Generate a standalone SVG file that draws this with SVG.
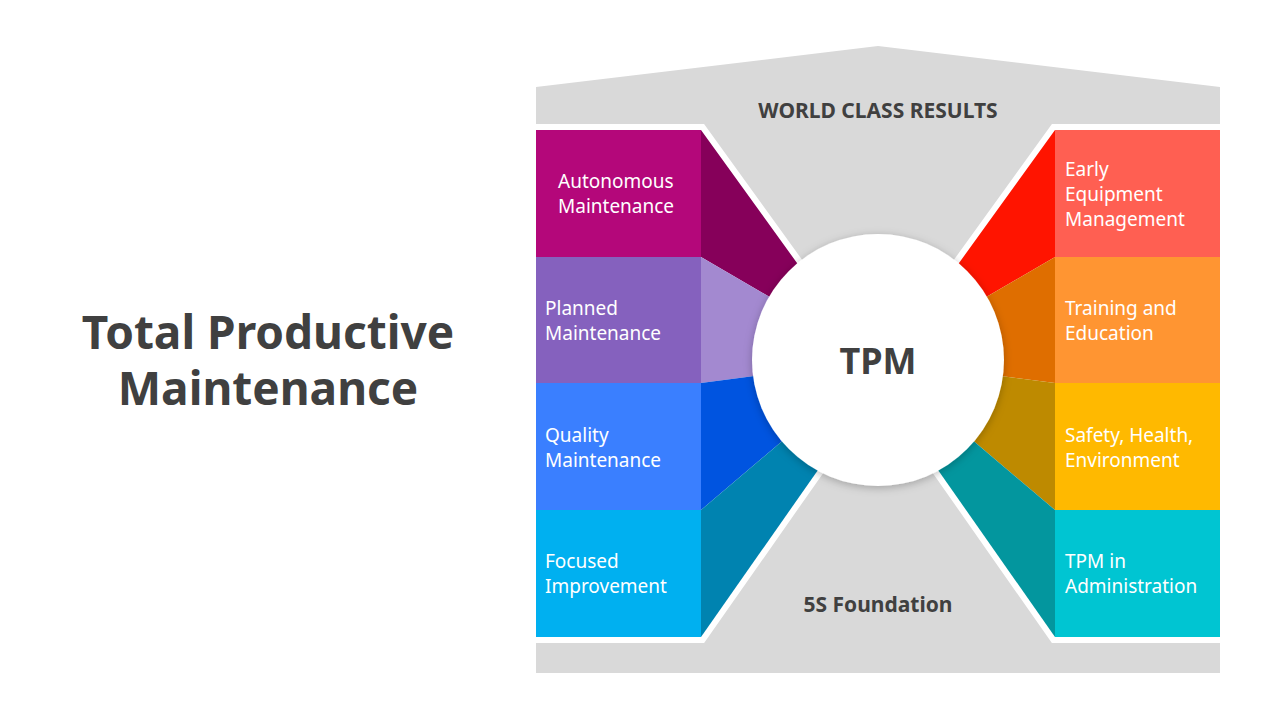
<svg xmlns="http://www.w3.org/2000/svg" width="1280" height="720" viewBox="0 0 1280 720">
<defs>
<style>
.lbl{font-family:"Noto Sans","Open Sans",sans-serif;font-size:19px;fill:#fff}
.hd{font-family:"Noto Sans","Open Sans",sans-serif;font-weight:bold;fill:#404040}
</style>
<filter id="sh" x="-20%" y="-20%" width="140%" height="140%"><feDropShadow dx="0" dy="2" stdDeviation="4" flood-color="#000" flood-opacity="0.25"/></filter>
</defs>
<rect width="1280" height="720" fill="#fff"/>
<text class="hd" font-size="46" text-anchor="middle"><tspan x="268" y="349">Total Productive</tspan><tspan x="268" y="405">Maintenance</tspan></text>
<g id="house">
<polygon points="536,87 878,46 1220,87 1220,673 536,673" fill="#d9d9d9"/>
<polygon points="536,130 701,130 797,263 878,360 818,470 701,637 536,637" fill="#fff" stroke="#fff" stroke-width="12"/>
<polygon points="1220,130 1055,130 959,263 878,360 938,470 1055,637 1220,637" fill="#fff" stroke="#fff" stroke-width="12"/>
<text class="hd" x="878" y="118" font-size="21" text-anchor="middle">WORLD CLASS RESULTS</text>
<text class="hd" x="878" y="612" font-size="21" text-anchor="middle">5S Foundation</text>
</g>
<g id="connectors"></g>
<g id="autonomous">
<rect x="536" y="130" width="165" height="127" fill="#b4077a"/>
<polygon points="701,130 797,263 878,360 701,257" fill="#86005a"/>
<text class="lbl"><tspan x="558" y="188">Autonomous</tspan><tspan x="558" y="213">Maintenance</tspan></text>
</g>
<g id="planned">
<rect x="536" y="257" width="165" height="126" fill="#8561be"/>
<polygon points="701,257 878,360 701,383" fill="#a389d0"/>
<text class="lbl"><tspan x="545" y="315">Planned</tspan><tspan x="545" y="340">Maintenance</tspan></text>
</g>
<g id="quality">
<rect x="536" y="383" width="165" height="127" fill="#3a7fff"/>
<polygon points="701,383 878,360 701,510" fill="#0054e0"/>
<text class="lbl"><tspan x="545" y="442">Quality</tspan><tspan x="545" y="467">Maintenance</tspan></text>
</g>
<g id="focused">
<rect x="536" y="510" width="165" height="127" fill="#00b0f0"/>
<polygon points="701,510 878,360 818,470 701,637" fill="#0083b0"/>
<text class="lbl"><tspan x="545" y="568">Focused</tspan><tspan x="545" y="593">Improvement</tspan></text>
</g>
<g id="early">
<rect x="1055" y="130" width="165" height="127" fill="#ff5f52"/>
<polygon points="1055,130 959,263 878,360 1055,257" fill="#ff1400"/>
<text class="lbl"><tspan x="1065" y="176">Early</tspan><tspan x="1065" y="201">Equipment</tspan><tspan x="1065" y="226">Management</tspan></text>
</g>
<g id="training">
<rect x="1055" y="257" width="165" height="126" fill="#ff9532"/>
<polygon points="1055,257 878,360 1055,383" fill="#df6e00"/>
<text class="lbl"><tspan x="1065" y="315">Training and</tspan><tspan x="1065" y="340">Education</tspan></text>
</g>
<g id="safety">
<rect x="1055" y="383" width="165" height="127" fill="#ffb900"/>
<polygon points="1055,383 878,360 1055,510" fill="#be8a00"/>
<text class="lbl"><tspan x="1065" y="442">Safety, Health,</tspan><tspan x="1065" y="467">Environment</tspan></text>
</g>
<g id="admin">
<rect x="1055" y="510" width="165" height="127" fill="#00c5d2"/>
<polygon points="1055,510 878,360 938,470 1055,637" fill="#03969e"/>
<text class="lbl"><tspan x="1065" y="568">TPM in</tspan><tspan x="1065" y="593">Administration</tspan></text>
</g>
<g id="tpm">
<circle cx="878" cy="360" r="126" fill="#fff" filter="url(#sh)"/>
<text class="hd" x="878" y="374" font-size="36" text-anchor="middle">TPM</text>
</g>
</svg>
